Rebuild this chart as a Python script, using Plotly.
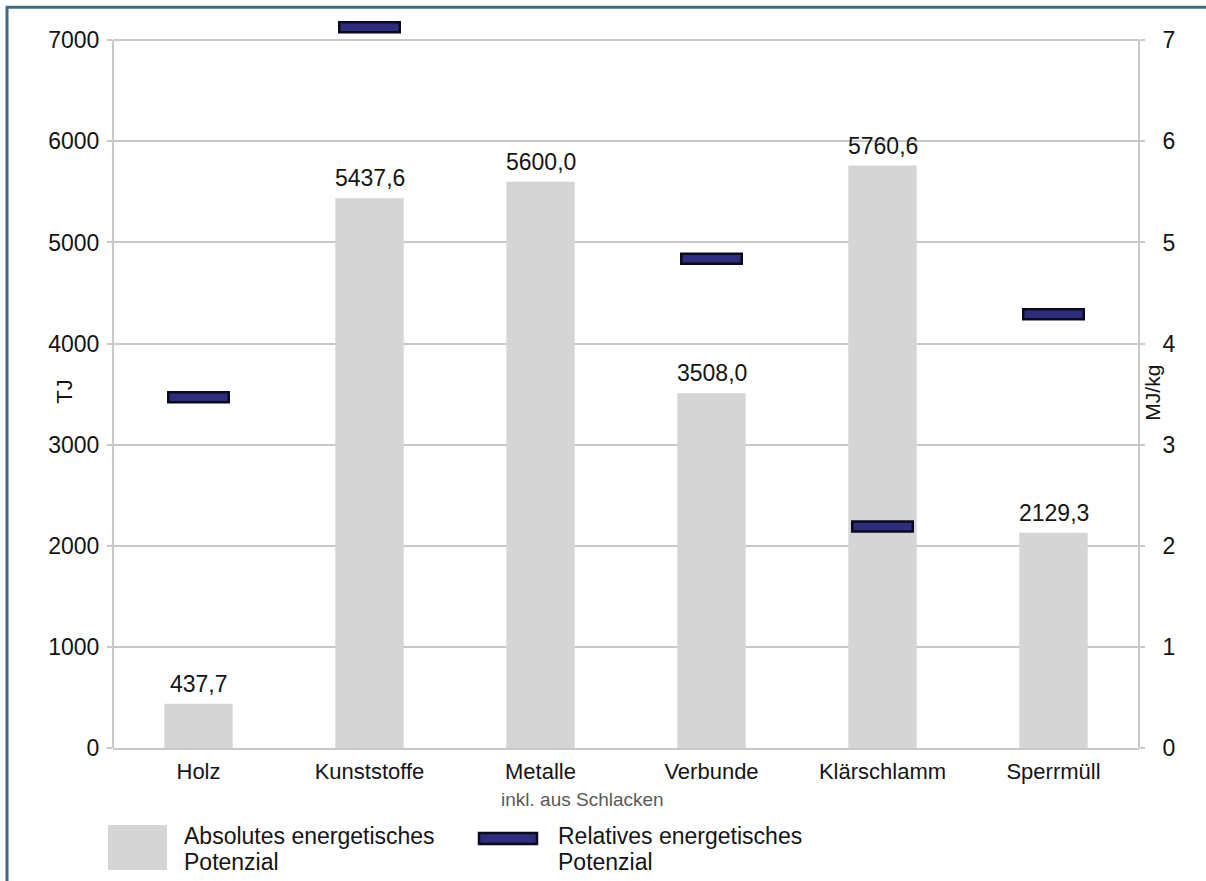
import plotly.graph_objects as go

# Categories and values
categories = ["Holz", "Kunststoffe", "Metalle", "Verbunde", "Klärschlamm", "Sperrmüll"]
absolute_tj = [437.7, 5437.6, 5600.0, 3508.0, 5760.6, 2129.3]          # TJ (left axis)
relative_mjkg = [3.47, 7.13, None, 4.84, 2.19, 4.29]                   # MJ/kg (right axis)
left_ticks = [0, 1000, 2000, 3000, 4000, 5000, 6000, 7000]
right_ticks = [0, 1, 2, 3, 4, 5, 6, 7]

BAR_GREY = "#d5d5d5"
NAVY = "#2e2e7e"
OUTLINE = "#0a0a1a"
AXIS_GREY = "#c8c8c8"
BORDER = "#3e6b84"
TEXT = "#141414"
FONT = "Liberation Sans, Arial, sans-serif"

# The axes run a little past the top tick so dashes above 7 stay visible
TOP_LEFT = 7250
TOP_RIGHT = 7.25

W, H = 1206, 881
L, R, B = 113, 67, 133
PX_PER_UNIT = 708 / 7                    # pixels per MJ/kg (and per 1000 TJ)
PW = W - L - R
PH = PX_PER_UNIT * TOP_RIGHT
T = H - B - PH


def px(xp):
    return (xp - L) / PW


def py(yp):
    return (H - B - yp) / PH


fig = go.Figure()

# Absolute potential as grey bars
fig.add_trace(go.Bar(
    x=categories, y=absolute_tj, width=0.4,
    marker=dict(color=BAR_GREY, line=dict(width=0)),
    name="Absolutes energetisches Potenzial", showlegend=False,
    hoverinfo="x+y",
))

# Relative potential as short thick dashes (outline + fill), right axis.
# line-ew markers are 1.4 x size long.
fig.add_trace(go.Scatter(
    x=categories, y=relative_mjkg, yaxis="y2", mode="markers",
    marker=dict(symbol="line-ew", size=63 / 1.4, line=dict(color=OUTLINE, width=12.5)),
    cliponaxis=False, showlegend=False, hoverinfo="skip",
))
fig.add_trace(go.Scatter(
    x=categories, y=relative_mjkg, yaxis="y2", mode="markers",
    marker=dict(symbol="line-ew", size=58 / 1.4, line=dict(color=NAVY, width=7.5)),
    cliponaxis=False, showlegend=False,
    name="Relatives energetisches Potenzial",
    hovertemplate="%{x}: %{y} MJ/kg<extra></extra>",
))

annotations = []
# Value labels above the grey bars
for c, v in zip(categories, absolute_tj):
    annotations.append(dict(
        x=c, y=v, xref="x", yref="y", yanchor="bottom", yshift=5,
        text=f"{v:.1f}".replace(".", ","), showarrow=False,
        font=dict(family=FONT, size=23, color=TEXT),
    ))

# Sub-label for the metals category
annotations.append(dict(
    x=px(499), y=py(800), xref="paper", yref="paper", xanchor="left", yanchor="middle",
    text="inkl. aus Schlacken", showarrow=False,
    font=dict(family=FONT, size=19, color="#5a5a5a"),
))

# Axis titles
annotations.append(dict(
    x=px(50), y=py(392), xref="paper", yref="paper", textangle=-90,
    text="TJ", showarrow=False, font=dict(family=FONT, size=22, color=TEXT),
))
annotations.append(dict(
    x=px(1166), y=py(393), xref="paper", yref="paper", textangle=-90,
    text="MJ/kg", showarrow=False, font=dict(family=FONT, size=21, color=TEXT),
))

# Legend texts (two lines each)
legend_entries = [
    (182, ["Absolutes energetisches", "Potenzial"]),
    (556, ["Relatives energetisches", "Potenzial"]),
]
for x_left, lines in legend_entries:
    for line_text, y_mid in zip(lines, (836, 862)):
        annotations.append(dict(
            x=px(x_left), y=py(y_mid), xref="paper", yref="paper",
            xanchor="left", yanchor="middle", text=line_text, showarrow=False,
            font=dict(family=FONT, size=23, color=TEXT),
        ))

shapes = [
    # vertical axis lines, from 0 up to the top tick
    dict(type="line", xref="paper", yref="y", x0=0, x1=0, y0=0, y1=left_ticks[-1],
         line=dict(color=AXIS_GREY, width=2), layer="below"),
    dict(type="line", xref="paper", yref="y", x0=1, x1=1, y0=0, y1=left_ticks[-1],
         line=dict(color=AXIS_GREY, width=2), layer="below"),
    # legend swatches
    dict(type="rect", xref="paper", yref="paper", x0=px(108), x1=px(167), y0=py(870), y1=py(825),
         fillcolor=BAR_GREY, line=dict(width=0), layer="above"),
    dict(type="rect", xref="paper", yref="paper", x0=px(479), x1=px(537), y0=py(844), y1=py(833),
         fillcolor=NAVY, line=dict(color=OUTLINE, width=2.5), layer="above"),
    # frame lines
    dict(type="line", xref="paper", yref="paper", x0=px(7), x1=px(7), y0=py(6), y1=py(H + 5),
         line=dict(color=BORDER, width=3)),
    dict(type="line", xref="paper", yref="paper", x0=px(6), x1=px(W + 5), y0=py(7), y1=py(7),
         line=dict(color=BORDER, width=3)),
]

fig.update_layout(
    width=W, height=H,
    margin=dict(l=L, r=R, t=T, b=B, pad=0),
    paper_bgcolor="white", plot_bgcolor="white",
    barmode="overlay", bargap=0.6,
    showlegend=False,
    font=dict(family=FONT, color=TEXT),
    xaxis=dict(
        type="category", showline=True, linecolor=AXIS_GREY, linewidth=2,
        ticks="", showgrid=False, ticklabelstandoff=3,
        tickfont=dict(family=FONT, size=22, color=TEXT),
    ),
    yaxis=dict(
        range=[0, TOP_LEFT], tickvals=left_ticks, ticktext=[str(t) for t in left_ticks],
        showgrid=True, gridcolor=AXIS_GREY, gridwidth=2,
        showline=False,
        ticks="outside", ticklen=5, tickcolor=AXIS_GREY, tickwidth=2,
        ticklabelstandoff=3, zeroline=False,
        tickfont=dict(family=FONT, size=23, color=TEXT),
    ),
    yaxis2=dict(
        range=[0, TOP_RIGHT], tickvals=right_ticks, ticktext=[str(t) for t in right_ticks],
        overlaying="y", side="right", showgrid=False,
        showline=False,
        ticks="outside", ticklen=5, tickcolor=AXIS_GREY, tickwidth=2,
        ticklabelstandoff=13, zeroline=False,
        tickfont=dict(family=FONT, size=23, color=TEXT),
    ),
    annotations=annotations,
    shapes=shapes,
)

fig.write_html("out.html")
